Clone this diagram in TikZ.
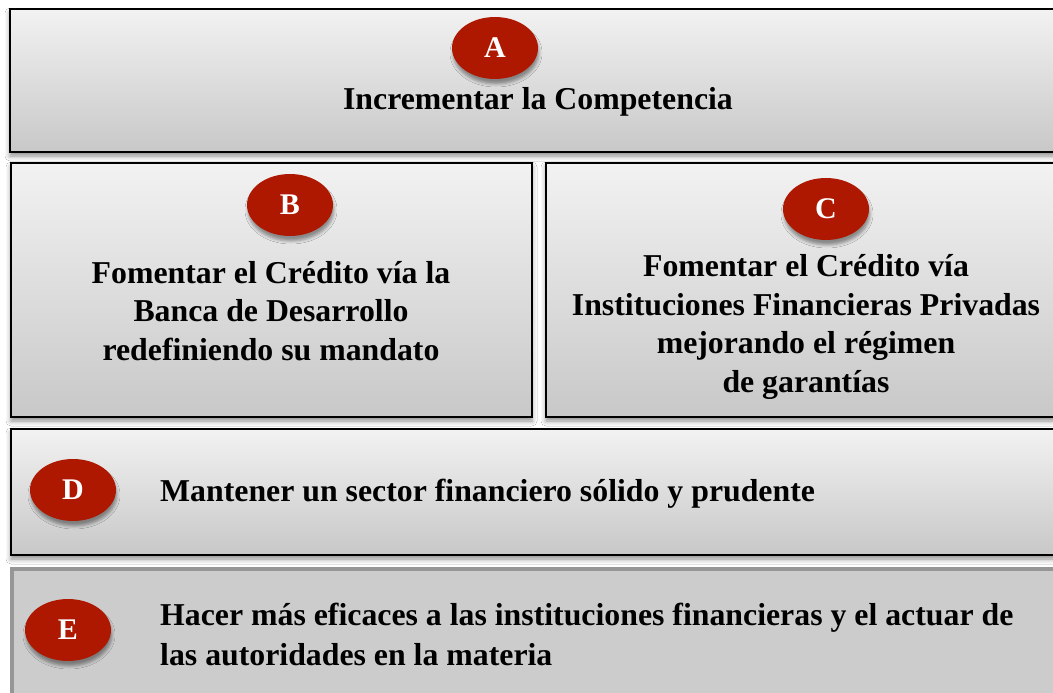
\documentclass[tikz,border=0pt]{standalone}
\usepackage{fontspec}
\setmainfont{Liberation Serif}
\usetikzlibrary{shapes.geometric,shadows.blur}
\definecolor{badgeRed}{RGB}{174,24,0}
\definecolor{panelTop}{RGB}{242,242,242}
\definecolor{panelBot}{RGB}{200,200,200}
\definecolor{plainFill}{RGB}{204,204,204}
\definecolor{plainEdge}{RGB}{150,150,150}
\begin{document}
\begin{tikzpicture}[x=1pt,y=-1pt,
  panel/.style={draw=black, line width=2pt, top color=panelTop, bottom color=panelBot,
    rectangle, inner sep=0pt, anchor=north west,
    blur shadow={shadow xshift=0pt, shadow yshift=-4pt, shadow blur radius=5pt, shadow opacity=45}},
  plainpanel/.style={draw=plainEdge, line width=4pt, fill=plainFill,
    rectangle, inner sep=0pt, anchor=north west},
  badge/.style={ellipse, fill=badgeRed, minimum width=86pt, minimum height=62pt, inner sep=0pt,
    text=white, font=\fontsize{30}{32}\selectfont\bfseries,
    blur shadow={shadow xshift=1pt, shadow yshift=-5pt, shadow blur radius=3pt, shadow opacity=40}},
  label/.style={font=\fontsize{31.8}{38.5}\selectfont\bfseries, inner sep=0pt, align=center},
  leftlabel/.style={font=\fontsize{31.8}{40}\selectfont\bfseries, inner sep=0pt, align=left, anchor=west}
]
\useasboundingbox (0,0) rectangle (1053,693);
\fill[white] (0,0) rectangle (1053,693);

\node[panel, minimum width=1058pt, minimum height=143pt] (boxA) at (9,8) {};
\node[panel, minimum width=521pt, minimum height=254pt] (boxB) at (10,162) {};
\node[panel, minimum width=522pt, minimum height=254pt] (boxC) at (545,162) {};
\node[panel, minimum width=1057pt, minimum height=126pt] (boxD) at (10,428) {};
\node[plainpanel, minimum width=1057pt, minimum height=140pt] (boxE) at (10,567) {};

\node[badge] (badgeA) at (495,48) {A};
\node[badge] (badgeB) at (290,205) {B};
\node[badge] (badgeC) at (826,209) {C};
\node[badge] (badgeD) at (73,490) {D};
\node[badge] (badgeE) at (68,630) {E};

\node[label] (textA) at (538,102) {Incrementar la Competencia};
\node[label] (textB) at (271,311) {Fomentar el Crédito vía la\\Banca de Desarrollo\\redefiniendo su mandato};
\node[label] (textC) at (806,327) {Fomentar el Crédito vía\\Instituciones Financieras Privadas\\mejorando el régimen\\de garantías};
\node[leftlabel] (textD) at (160,494) {Mantener un sector financiero sólido y prudente};
\node[leftlabel] (textE) at (160,634) {Hacer más eficaces a las instituciones financieras y el actuar de\\las autoridades en la materia};
\end{tikzpicture}
\end{document}
